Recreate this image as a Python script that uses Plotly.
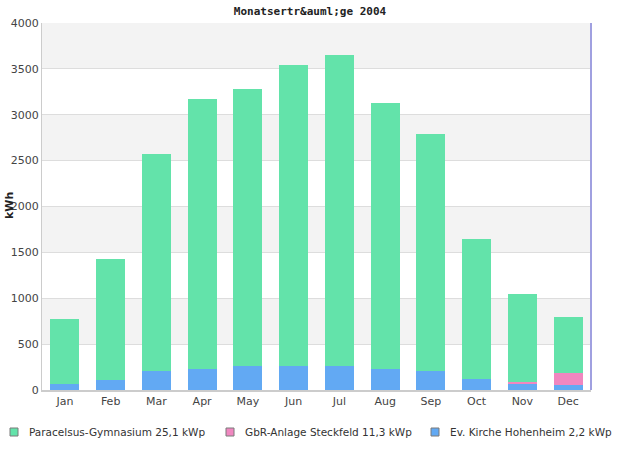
import plotly.graph_objects as go

months = ["Jan", "Feb", "Mar", "Apr", "May", "Jun", "Jul", "Aug", "Sep", "Oct", "Nov", "Dec"]
kirche = [65, 109, 207, 229, 262, 262, 262, 229, 207, 120, 69, 55]
gbr = [0, 0, 0, 0, 0, 0, 0, 0, 0, 0, 21, 130]
paracelsus = [710, 1319, 2365, 2943, 3019, 3280, 3389, 2899, 2583, 1526, 956, 611]

names = ["Paracelsus-Gymnasium 25,1 kWp", "GbR-Anlage Steckfeld 11,3 kWp", "Ev. Kirche Hohenheim 2,2 kWp"]
colors = ["#63e3aa", "#f087c0", "#62a9f3"]
series = [paracelsus, gbr, kirche]

W, H = 620, 450
# plot area in page pixels: x 42..591, y 23..390
L, R, T, B = 42, 29, 23, 60
pw, ph = W - L - R, H - T - B


def px(x):
    return (x - L) / pw


def py(y):
    return (H - B - y) / ph


fig = go.Figure()
# stacking: blue bottom, pink middle, green top
for vals, name, col in reversed(list(zip(series, names, colors))):
    fig.add_trace(go.Bar(x=months, y=vals, name=name, marker=dict(color=col, line=dict(width=0)),
                         showlegend=False, width=0.63))

shapes = []
for lo in [500, 1500, 2500, 3500]:
    shapes.append(dict(type="rect", xref="paper", yref="y", x0=0, x1=1, y0=lo, y1=lo + 500,
                       fillcolor="#f3f3f3", line=dict(width=0), layer="below"))
shapes.append(dict(type="line", xref="paper", yref="paper", x0=1, x1=1, y0=0, y1=1,
                   line=dict(color="#a0a0e0", width=2)))

annotations = [dict(text="<b>kWh</b>", textangle=-90, xref="paper", yref="paper", x=px(9), y=py(206),
                    xanchor="center", yanchor="middle", showarrow=False,
                    font=dict(family="DejaVu Sans", size=11, color="#222222"))]

# manual legend
leg_x = [10, 226, 431]
for lx, name, col in zip(leg_x, names, colors):
    shapes.append(dict(type="rect", xref="paper", yref="paper", x0=px(lx), x1=px(lx + 8),
                       y0=py(428), y1=py(436), fillcolor=col, line=dict(color="#7a7a7a", width=1)))
    annotations.append(dict(text=name, xref="paper", yref="paper", x=px(lx + 17), y=py(431.5),
                            xanchor="left", yanchor="middle", showarrow=False,
                            font=dict(family="DejaVu Sans", size=10.5, color="#333333")))

fig.update_layout(
    width=W, height=H,
    margin=dict(l=L, r=R, t=T, b=B, autoexpand=False),
    paper_bgcolor="white", plot_bgcolor="white",
    barmode="stack",
    bargap=0.37,
    showlegend=False,
    shapes=shapes,
    annotations=annotations,
    title=dict(text="Monatsertr&amp;auml;ge 2004", x=0.5, xanchor="center",
               y=1 - 7 / H, yanchor="top",
               font=dict(family="DejaVu Sans Mono", size=11, color="#222222", weight="bold")),
    xaxis=dict(showgrid=False, showline=True, linecolor="#cccccc", linewidth=2, automargin=False,
               tickfont=dict(family="DejaVu Sans", size=11, color="#444444"), ticks="", ticklen=0),
    yaxis=dict(range=[0, 4000], dtick=500, showgrid=True, gridcolor="#dddddd", gridwidth=1,
               showline=True, linecolor="#cccccc", linewidth=1, zeroline=False, automargin=False,
               tickfont=dict(family="DejaVu Sans", size=11, color="#444444"), ticks="", tickformat="d"),
)

fig.write_html("out.html", config={"displayModeBar": False},
               post_script="document.body.style.margin='0px';document.body.style.overflow='hidden';")
